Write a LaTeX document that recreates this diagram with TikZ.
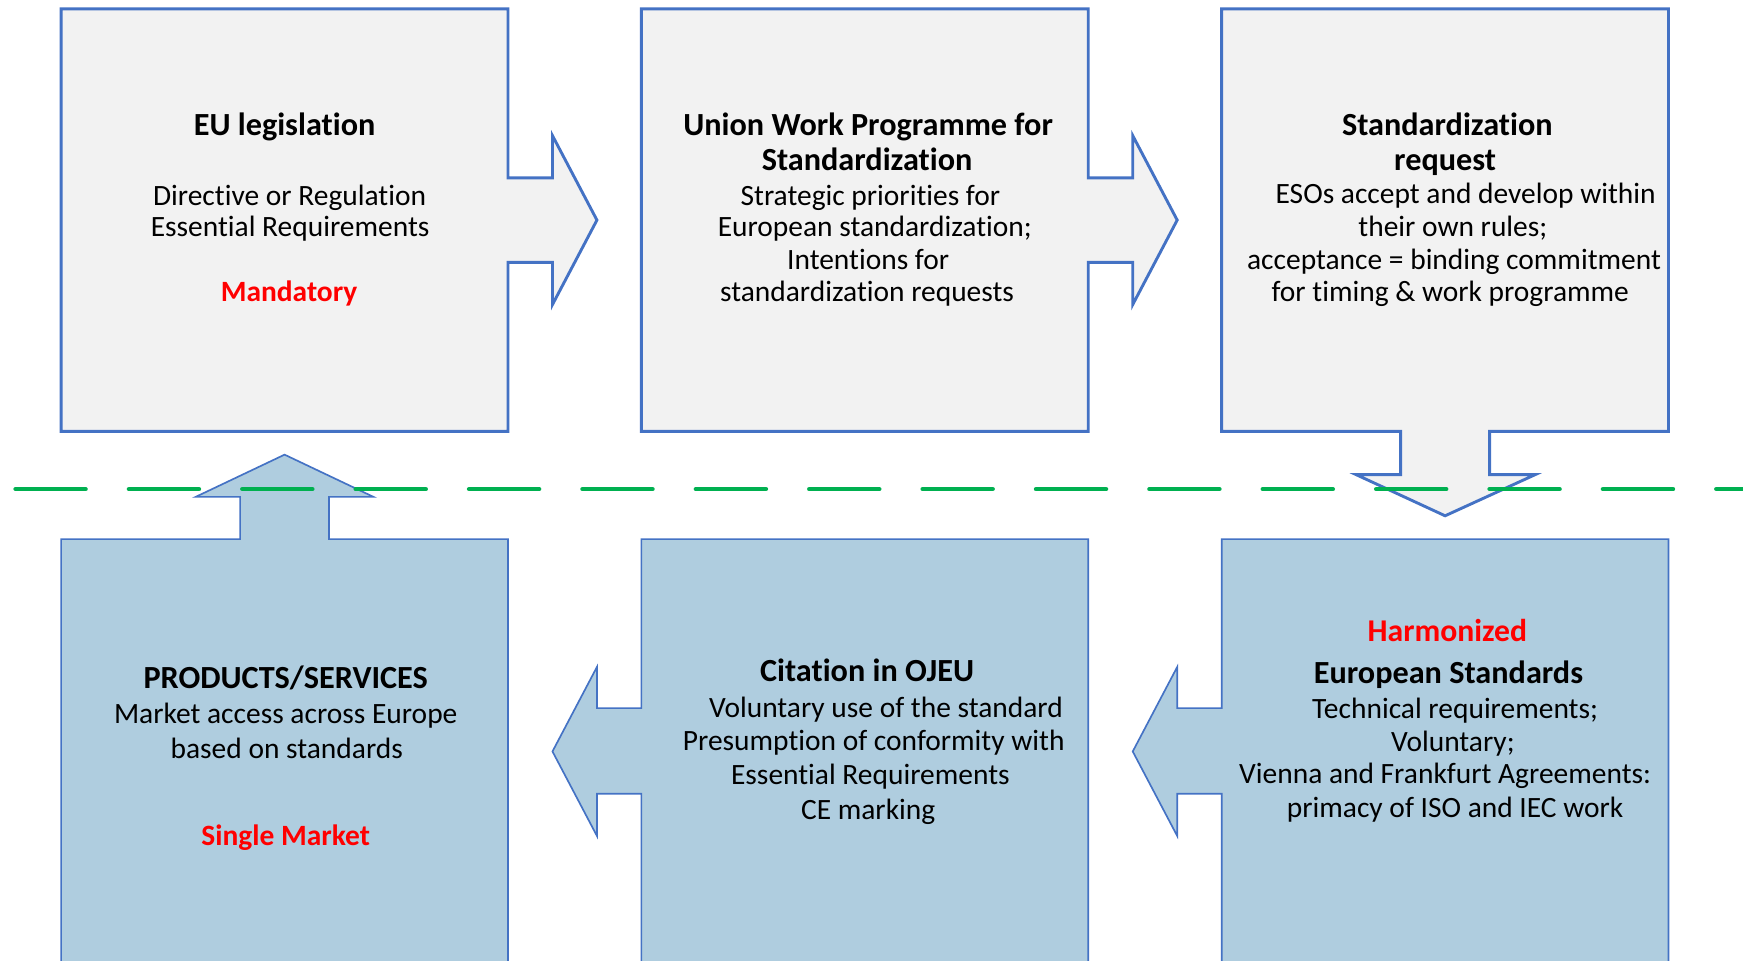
\documentclass[tikz,border=0pt]{standalone}
\usepackage{fontspec}
\setmainfont{Carlito}[Ligatures={NoCommon,NoRequired,NoContextual}]
\definecolor{boxgray}{HTML}{F2F2F2}
\definecolor{boxlight}{HTML}{AFCDDF}
\definecolor{boxblue}{HTML}{4472C4}
\definecolor{mred}{HTML}{FF0000}
\definecolor{mgreen}{HTML}{00B050}
\tikzset{
  topbox/.style={fill=boxgray, draw=boxblue, line width=2.6pt, line join=miter},
  botbox/.style={fill=boxlight, draw=boxblue, line width=1.5pt, line join=miter},
  ttl/.style={font=\fontsize{29}{33}\selectfont\bfseries, anchor=base, inner sep=0pt},
  bdy/.style={font=\fontsize{26.5}{29}\selectfont, anchor=base, inner sep=0pt},
  hl/.style={font=\fontsize{26.5}{29}\selectfont\bfseries, anchor=base, inner sep=0pt, text=mred},
  divider/.style={draw=mgreen, line width=4pt, line cap=round, dash pattern=on 63pt off 39pt}
}
\begin{document}
\begin{tikzpicture}[x=1pt,y=-1pt]
\useasboundingbox (0,0) rectangle (1568,864);
\clip (0,0) rectangle (1568,864);
% top row
\path[topbox] (55,8) -- (457,8) -- (457,160) -- (497,160) -- (497,122) -- (537,198)
  -- (497,274) -- (497,236) -- (457,236) -- (457,388) -- (55,388) -- cycle;
\path[topbox] (577,8) -- (979,8) -- (979,160) -- (1019,160) -- (1019,122) -- (1059,198)
  -- (1019,274) -- (1019,236) -- (979,236) -- (979,388) -- (577,388) -- cycle;
\path[topbox] (1099,8) -- (1501,8) -- (1501,388) -- (1340,388) -- (1340,427) -- (1381,427)
  -- (1300,464) -- (1220,427) -- (1260,427) -- (1260,388) -- (1099,388) -- cycle;
% bottom row
\path[botbox] (55,880) -- (55,485) -- (216,485) -- (216,447) -- (176,447) -- (256,409)
  -- (336,447) -- (296,447) -- (296,485) -- (457,485) -- (457,880) -- cycle;
\path[botbox] (577,880) -- (577,714) -- (537,714) -- (537,752) -- (497,676) -- (537,600)
  -- (537,637) -- (577,637) -- (577,485) -- (979,485) -- (979,880) -- cycle;
\path[botbox] (1099,880) -- (1099,714) -- (1059,714) -- (1059,752) -- (1019,676) -- (1059,600)
  -- (1059,637) -- (1099,637) -- (1099,485) -- (1501,485) -- (1501,880) -- cycle;
% divider
\coordinate (dl) at (14,440);
\coordinate (dr) at (1600,440);
\draw[divider] (dl) -- (dr);
% box 1 text
\node[ttl] (a1) at (256,122) {EU legislation};
\node[bdy] (a2) at (260.5,184.5) {Directive or Regulation};
\node[bdy] (a3) at (261,213) {Essential Requirements};
\node[hl]  (a4) at (260,271.5) {Mandatory};
% box 2 text
\node[ttl] (b1) at (781,121.5) {Union Work Programme for};
\node[ttl] (b2) at (780,153.5) {Standardization};
\node[bdy] (b3) at (783,184.5) {Strategic priorities for};
\node[bdy] (b4) at (787,213) {European standardization;};
\node[bdy] (b5) at (781,242) {Intentions for};
\node[bdy] (b6) at (780,271.5) {standardization requests};
% box 3 text
\node[ttl] (c1) at (1302,121.5) {Standardization};
\node[ttl] (c2) at (1300,153.5) {request};
\node[bdy] (c3) at (1318.5,183.5) {ESOs accept and develop within};
\node[bdy] (c4) at (1307,213) {their own rules;};
\node[bdy] (c5) at (1308,242) {acceptance = binding commitment};
\node[bdy] (c6) at (1304.6,271.5) {for timing \& work programme};
% box 4 text
\node[ttl] (d1) at (257,619) {PRODUCTS/SERVICES};
\node[bdy] (d2) at (257,650.5) {Market access across Europe};
\node[bdy] (d3) at (258,682.5) {based on standards};
\node[hl]  (d4) at (257,760.5) {Single Market};
% box 5 text
\node[ttl] (e1) at (780,613.3) {Citation in OJEU};
\node[bdy] (e2) at (797,645.3) {Voluntary use of the standard};
\node[bdy] (e3) at (786,674.7) {Presumption of conformity with};
\node[bdy] (e4) at (783,705.3) {Essential Requirements};
\node[bdy] (e5) at (781,737.6) {CE marking};
% box 6 text
\node[hl, font=\fontsize{28.5}{33}\selectfont\bfseries] (f1) at (1302,577) {Harmonized};
\node[ttl] (f2) at (1303,615.3) {European Standards};
\node[bdy] (f3) at (1309,646.2) {Technical requirements;};
\node[bdy] (f4) at (1307,676.2) {Voluntary;};
\node[bdy] (f5) at (1300,704.7) {Vienna and Frankfurt Agreements:};
\node[bdy] (f6) at (1309,735.3) {primacy of ISO and IEC work};
\end{tikzpicture}
\end{document}
